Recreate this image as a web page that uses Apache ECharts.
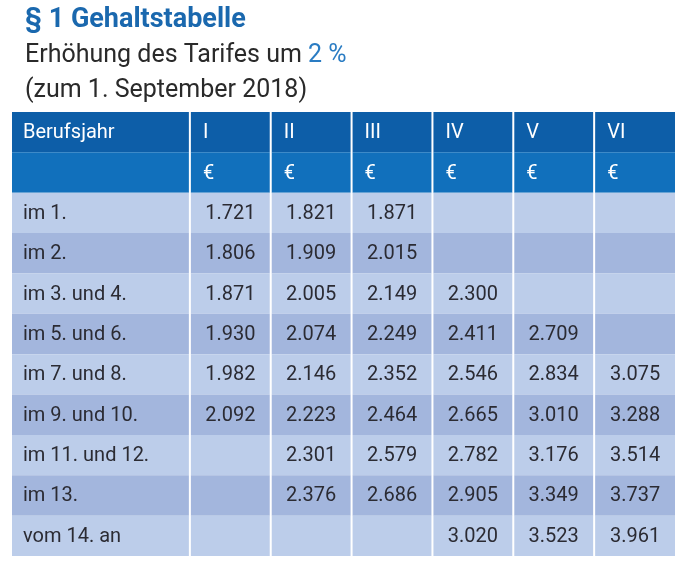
<!DOCTYPE html>
<html>
<head>
<meta charset="utf-8">
<script src="https://cdn.jsdelivr.net/npm/echarts@6/dist/echarts.min.js"></script>
<style>
html,body{margin:0;padding:0;background:#fff;}
#chart{width:682px;height:562px;}
</style>
</head>
<body>
<div id="chart"></div>
<script>
// ---- data ----
const columnHeaders = ["Berufsjahr", "I", "II", "III", "IV", "V", "VI"];
const unitHeaders = ["", "€", "€", "€", "€", "€", "€"];
const years = ["im 1.", "im 2.", "im 3. und 4.", "im 5. und 6.", "im 7. und 8.", "im 9. und 10.", "im 11. und 12.", "im 13.", "vom 14. an"];
const groupI   = [1721, 1806, 1871, 1930, 1982, 2092, null, null, null];
const groupII  = [1821, 1909, 2005, 2074, 2146, 2223, 2301, 2376, null];
const groupIII = [1871, 2015, 2149, 2249, 2352, 2464, 2579, 2686, null];
const groupIV  = [null, null, 2300, 2411, 2546, 2665, 2782, 2905, 3020];
const groupV   = [null, null, null, 2709, 2834, 3010, 3176, 3349, 3523];
const groupVI  = [null, null, null, null, 3075, 3288, 3514, 3737, 3961];
const groups = [groupI, groupII, groupIII, groupIV, groupV, groupVI];

const titleText = "§ 1 Gehaltstabelle";
const subtitleLead = "Erhöhung des Tarifes um ";
const subtitleRate = "2 %";
const subtitleDate = "(zum 1. September 2018)";

// ---- build cells ----
function fmt(v) {
  if (v === null || v === undefined) return "";
  const s = String(v);
  return s.length > 3 ? s.slice(0, s.length - 3) + "." + s.slice(-3) : s;
}
const cells = [];
columnHeaders.forEach((t, c) => cells.push([c, 0, t, "h1"]));
unitHeaders.forEach((t, c) => cells.push([c, 1, t, "h2"]));
years.forEach((y, r) => {
  const kind = r % 2 === 0 ? "d1" : "d2";
  cells.push([0, r + 2, y, kind]);
  groups.forEach((g, gi) => cells.push([gi + 1, r + 2, fmt(g[r]), kind]));
});

const FIRST_W = 2.2;
const fills = { h1: "#0d5ea8", h2: "#1170bc", d1: "#bccdea", d2: "#a3b6dd" };
const FONT = "Roboto";

const chart = echarts.init(document.getElementById("chart"), null, { renderer: "canvas" });
chart.setOption({
  animation: false,
  backgroundColor: "#ffffff",
  title: [
    {
      text: titleText, left: 20, top: 2,
      textStyle: { fontFamily: FONT, fontSize: 27, fontWeight: "bold", color: "#1a68ae" }
    },
    {
      text: "{a|" + subtitleLead + "}{b|" + subtitleRate + "}", left: 20, top: 38,
      textStyle: {
        fontWeight: "normal",
        rich: {
          a: { fontFamily: FONT, fontSize: 25, fontWeight: "normal", color: "#2a2a2a" },
          b: { fontFamily: FONT, fontSize: 25, fontWeight: "normal", color: "#2a7cc3" }
        }
      }
    },
    {
      text: subtitleDate, left: 20, top: 73,
      textStyle: { fontFamily: FONT, fontSize: 25, fontWeight: "normal", color: "#2a2a2a" }
    }
  ],
  grid: { left: 12, right: 7, top: 112, bottom: 6 },
  xAxis: { type: "value", min: 0, max: FIRST_W + columnHeaders.length - 1, show: false },
  yAxis: { type: "value", min: 0, max: 2 + years.length, inverse: true, show: false },
  series: [{
    type: "custom",
    data: cells,
    encode: { x: 0, y: 1 },
    renderItem: function (params, api) {
      const c = api.value(0), r = api.value(1);
      const item = cells[params.dataIndex];
      const text = item[2], kind = item[3];
      const x0v = c === 0 ? 0 : FIRST_W + c - 1;
      const x1v = c === 0 ? FIRST_W : FIRST_W + c;
      const p0 = api.coord([x0v, r]);
      const p1 = api.coord([x1v, r + 1]);
      const left = p0[0] + (c > 0 ? 1 : 0);
      const right = p1[0] - (c < columnHeaders.length - 1 ? 1 : 0);
      const top = p0[1], bottom = p1[1];
      const isHead = kind === "h1" || kind === "h2";
      let tx, align;
      if (c === 0) { tx = left + 11; align = "left"; }
      else if (isHead) { tx = left + 12; align = "left"; }
      else { tx = (left + right) / 2; align = "center"; }
      return {
        type: "group",
        children: [
          { type: "rect", shape: { x: left, y: top, width: right - left, height: bottom - top },
            style: { fill: fills[kind] } },
          { type: "text", x: tx, y: (top + bottom) / 2 + 1,
            style: { text: text, textAlign: align, textVerticalAlign: "middle",
              fontFamily: FONT, fontSize: 20,
              fill: isHead ? "#ffffff" : "#2b2b33" } }
        ]
      };
    }
  }]
});
</script>
</body>
</html>
